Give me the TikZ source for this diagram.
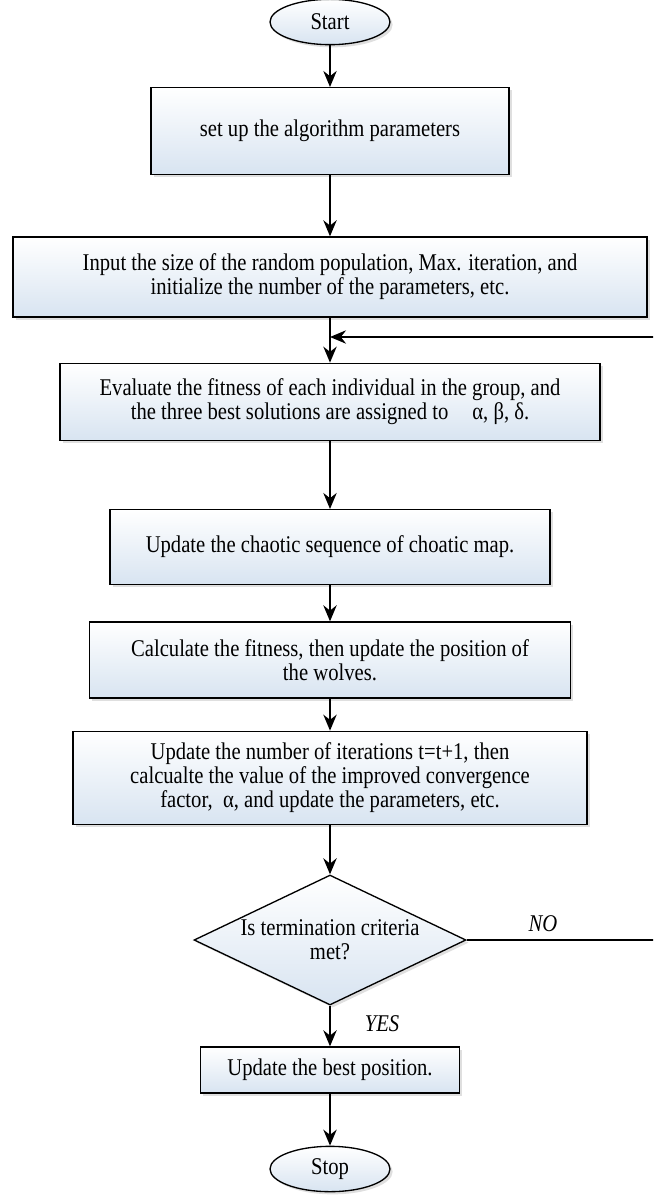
\documentclass[tikz,border=0pt]{standalone}
\usepackage{fontspec}
\setmainfont{Liberation Serif}[FakeStretch=0.86]
\usetikzlibrary{arrows.meta,shapes.geometric,shadows}
\definecolor{boxblue}{RGB}{216,228,241}
\tikzstyle{block}=[rectangle,draw,line width=1pt,top color=white,bottom color=boxblue,drop shadow={shadow xshift=2pt,shadow yshift=-2pt,opacity=0.25},align=center,inner sep=2pt]
\tikzstyle{terminal}=[ellipse,draw,line width=1pt,top color=white,bottom color=boxblue,drop shadow={shadow xshift=2pt,shadow yshift=-2pt,opacity=0.25},minimum width=90pt,minimum height=34pt,inner sep=0pt]
\tikzstyle{decision}=[diamond,draw,line width=1pt,top color=white,bottom color=boxblue,drop shadow={shadow xshift=2pt,shadow yshift=-2pt,opacity=0.25},aspect=2.1,minimum width=204pt,minimum height=97.5pt,inner sep=0pt,align=center]
\tikzstyle{edge} = [draw,line width=1.5pt,-{Stealth[length=12pt,width=10pt]}]
\tikzstyle{answer} = [font=\fontsize{18}{18}\selectfont\itshape]

\begin{document}
\begin{tikzpicture}[x=0.75pt,y=-0.75pt,font=\fontsize{18}{18}\selectfont]

    \clip (0,0) rectangle (653,1195);

    \node[terminal] (start) at (330,22) {Start};

    \foreach \y/\w/\h/\name/\txt in {
        131/268.5/65/setup/{set up the algorithm parameters},
        277/475.5/60/init/{Input the size of the random population, Max. iteration, and\\initialize the number of the parameters, etc.},
        402/405/58/evaluate/{Evaluate the fitness of each individual in the group, and\\the three best solutions are assigned to\quad α, β, δ.},
        547/330/56/chaos/{Update the chaotic sequence of choatic map.},
        660/361/57/position/{Calculate the fitness, then update the position of\\the wolves.},
        778/385.5/70/iterate/{Update the number of iterations t=t+1, then\\calcualte the value of the improved convergence\\factor,\ \ α, and update the parameters, etc.},
        1070/194/34.5/best/{Update the best position.}}
        \node[block, minimum width=\w pt, minimum height=\h pt] (\name) at (330,\y) {\txt};

    \node[decision] (check) at (330,940) {Is termination criteria\\met?};
    \node[terminal] (stop) at (330,1169) {Stop};

    \foreach \source/\dest in {start/setup, setup/init, init/evaluate, evaluate/chaos,
                               chaos/position, position/iterate, iterate/check, check/best, best/stop}
        \path[edge] (\source) -- (\dest);

    % loop back when the criteria is not met
    \coordinate (join) at (330,337);
    \coordinate (corner) at (660,337);
    \path[edge] (check.east) -| (corner) -- (join);

    \node[answer] (no) at (543,924) {NO};
    \node[answer] (yes) at (382,1024) {YES};

\end{tikzpicture}
\end{document}
